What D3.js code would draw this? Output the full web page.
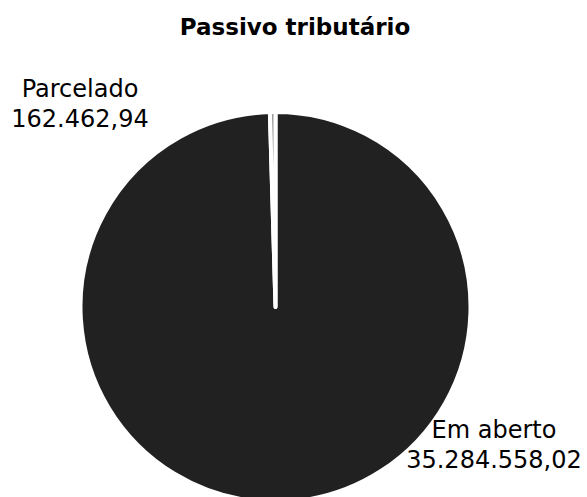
<!DOCTYPE html>
<html><head><meta charset="utf-8">
<script src="https://cdn.jsdelivr.net/npm/d3@7"></script>
<style>html,body{margin:0;padding:0;background:#fff;overflow:hidden}</style>
</head><body><svg id="c" width="587" height="497"></svg>
<script>
const categories = ["Em aberto", "Parcelado"];
const values = [35284558.02, 162462.94];
const valueLabels = ["35.284.558,02", "162.462,94"];
const colors = ["#212121", "#9a9a9a"];

const svg = d3.select("#c");
const cx = 275.5, cy = 307, R = 195;
const font = "'DejaVu Sans', sans-serif";

svg.append("text").attr("x", 295).attr("y", 35).attr("text-anchor", "middle")
  .attr("font-family", font).attr("font-weight", "bold").attr("font-size", 23)
  .attr("fill", "#000").text("Passivo tributário");

const pie = d3.pie().sort(null).value(d => d)(values);
const arc = d3.arc().innerRadius(0).outerRadius(R);
const g = svg.append("g").attr("transform", `translate(${cx},${cy})`);
g.selectAll("path").data(pie).join("path")
  .attr("d", arc).attr("fill", (d, i) => colors[i])
  .attr("stroke", "#fff").attr("stroke-width", 4).attr("stroke-linejoin", "round");

const labelPos = [[494, 438], [80, 97]];
categories.forEach((c, i) => {
  const t = svg.append("text").attr("text-anchor", "middle")
    .attr("font-family", font).attr("font-size", 24).attr("fill", "#000");
  t.append("tspan").attr("x", labelPos[i][0]).attr("y", labelPos[i][1]).text(c);
  t.append("tspan").attr("x", labelPos[i][0]).attr("y", labelPos[i][1] + 30).text(valueLabels[i]);
});
</script></body></html>
